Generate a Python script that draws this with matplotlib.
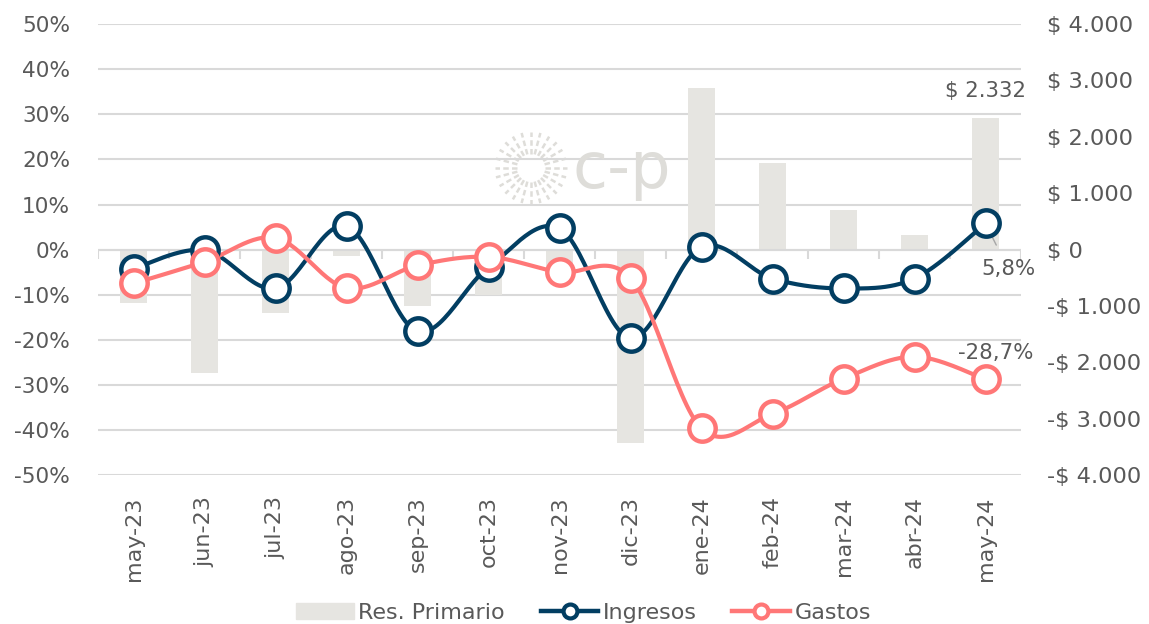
import numpy as np
import matplotlib
matplotlib.use("Agg")
import matplotlib.pyplot as plt
from matplotlib.lines import Line2D
from matplotlib.patches import Patch

months = ["may-23", "jun-23", "jul-23", "ago-23", "sep-23", "oct-23", "nov-23",
          "dic-23", "ene-24", "feb-24", "mar-24", "abr-24", "may-24"]
res_primario = [-950, -2185, -1125, -120, -1005, -805, -380, -3435, 2860, 1540, 700, 265, 2332]
ingresos = [-4.2, -0.1, -8.6, 5.2, -18.1, -3.9, 4.7, -19.6, 0.6, -6.4, -8.6, -6.4, 5.8]
gastos = [-7.5, -2.7, 2.6, -8.5, -3.5, -1.6, -5.0, -6.3, -39.6, -36.4, -28.6, -23.7, -28.7]

TXT = "#595959"
BLUE = "#023E62"
RED = "#FF7777"
BAR = "#E6E5E1"
GRID = "#D9D9D9"
plt.rcParams["font.family"] = ["DejaVu Sans"]

def smooth(y, sx=71.0, sy=4.51, n=30):
    """Excel-style smoothed line (cubic Bezier, tension 1/6) in screen-like units."""
    x = np.arange(len(y)) * sx
    yy = np.asarray(y, float) * sy
    P = np.column_stack([x, yy])
    out = []
    for i in range(len(P) - 1):
        p0 = P[i - 1] if i > 0 else P[i]
        p1, p2 = P[i], P[i + 1]
        p3 = P[i + 2] if i + 2 < len(P) else P[i + 1]
        c1 = p1 + (p2 - p0) / 6.0
        c2 = p2 - (p3 - p1) / 6.0
        t = np.linspace(0, 1, n)[:, None]
        seg = (1 - t) ** 3 * p1 + 3 * (1 - t) ** 2 * t * c1 + 3 * (1 - t) * t ** 2 * c2 + t ** 3 * p2
        out.append(seg if i == 0 else seg[1:])
    s = np.vstack(out)
    return s[:, 0] / sx, s[:, 1] / sy

fig = plt.figure(figsize=(11.49, 6.24), dpi=100)
ax = fig.add_axes([98 / 1149, 1 - 475.3 / 624, 923 / 1149, 451.3 / 624])
ax2 = ax.twinx()

x = np.arange(len(months))

ax2.set_zorder(1)
ax.set_zorder(2)
ax.patch.set_visible(False)
ax2.bar(x, res_primario, width=0.39, color=BAR, zorder=2)
ax2.set_ylim(-4000, 4000)
ax2.set_yticks(np.arange(-4000, 4001, 1000))

def money(v):
    s = f"{abs(int(v)):,}".replace(",", ".")
    return ("-$ " if v < 0 else "$ ") + s
ax2.set_yticklabels([money(v) for v in np.arange(-4000, 4001, 1000)])
ax2.tick_params(axis="y", length=0, pad=19, labelsize=16.2, labelcolor=TXT)

ax.set_xlim(-0.5, len(months) - 0.5)
ax.set_ylim(-50, 50)
ax.set_yticks(np.arange(-50, 51, 10))
ax.set_yticklabels([f"{v}%" for v in range(-50, 51, 10)])
ax.tick_params(axis="y", length=0, pad=20, labelsize=15.6, labelcolor=TXT)
for s in list(ax.spines.values()) + list(ax2.spines.values()):
    s.set_visible(False)

for v in np.arange(-50, 51, 10):
    ax2.axhline(v * 80, color=GRID, lw=1.5, zorder=0)
ax.axhline(0, color=GRID, lw=1.5, zorder=1)
ax.vlines(np.arange(-0.5, len(months), 1), -2.0, 0, color=GRID, lw=1.5, zorder=1)

ax.set_xticks(x)
ax.set_xticklabels(months, rotation=90)
ax.tick_params(axis="x", length=0, pad=15, labelsize=16, labelcolor=TXT)

for vals, col in [(ingresos, BLUE), (gastos, RED)]:
    sx_, sy_ = smooth(vals)
    ax.plot(sx_, sy_, color=col, lw=3.0, zorder=3, solid_capstyle="round")
    ax.plot(x, vals, ls="none", marker="o", ms=19, mfc="white", mec=col, mew=3.2, zorder=4)

ax2.annotate(money(res_primario[-1]), (x[-1], res_primario[-1]), xytext=(0, 12),
             textcoords="offset points", ha="center", va="bottom", fontsize=15.3, color=TXT)
ax.annotate("5,8%", (x[-1], ingresos[-1]), xytext=(x[-1] + 0.32, -4.3), ha="center", va="center",
            fontsize=15.3, color=TXT,
            arrowprops=dict(arrowstyle="-", color="#A6A6A6", lw=1, shrinkA=9, shrinkB=0))
ax.annotate("-28,7%", (x[-1], gastos[-1]), xytext=(x[-1] + 0.15, -23.0), ha="center", va="center",
            fontsize=15.3, color=TXT)

# watermark logo
wm = "#DEDDD9"
cx, cy = 531 / 1149, 1 - 168 / 624
w, h = 74 / 1149, 74 / 624
logo = fig.add_axes([cx - w / 2, cy - h / 2, w, h])
logo.set_xlim(-1, 1)
logo.set_ylim(-1, 1)
logo.axis("off")
for a in np.linspace(0, 2 * np.pi, 25)[:-1]:
    logo.plot([0.38 * np.cos(a), 0.98 * np.cos(a)], [0.38 * np.sin(a), 0.98 * np.sin(a)],
              color=wm, lw=1.8, ls=(0, (2.2, 1.3)))
fig.text(572 / 1149, 1 - 188 / 624, "c-p", fontsize=46, color=wm, ha="left", va="baseline")

handles = [Patch(facecolor=BAR, edgecolor=BAR, label="Res. Primario"),
           Line2D([0], [0], color=BLUE, lw=3.2, marker="o", ms=10, mfc="white", mec=BLUE, mew=3, label="Ingresos"),
           Line2D([0], [0], color=RED, lw=3.2, marker="o", ms=10, mfc="white", mec=RED, mew=3, label="Gastos")]
fig.legend(handles=handles, loc="lower center", bbox_to_anchor=(0.508, -0.03), ncol=3, frameon=False,
           fontsize=16, labelcolor=TXT, handlelength=2.6, handletextpad=0.2, columnspacing=1.6)

fig.savefig("out.png", dpi=100)
